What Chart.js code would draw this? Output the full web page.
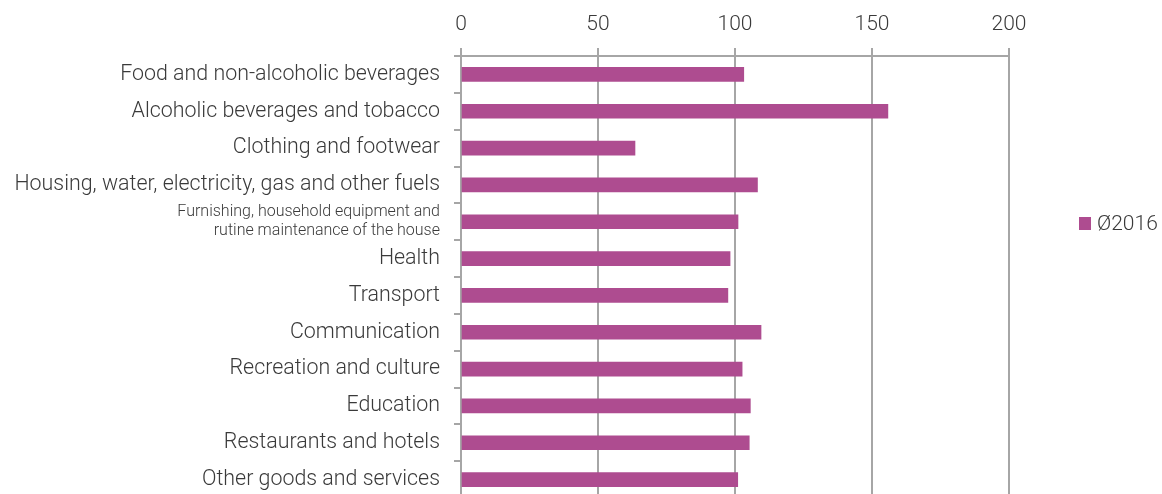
<!DOCTYPE html>
<html>
<head>
<meta charset="utf-8">
<script src="https://cdn.jsdelivr.net/npm/chart.js@4/dist/chart.umd.min.js"></script>
<style>
  html, body { margin: 0; padding: 0; background: #fff; overflow: hidden; }
  #wrap { position: relative; width: 1162px; height: 498px; }
</style>
</head>
<body>
<div id="wrap"><canvas id="chart"></canvas></div>
<script>
// categories (top to bottom)
const categories = [
  "Food and non-alcoholic beverages",
  "Alcoholic beverages and tobacco",
  "Clothing and footwear",
  "Housing, water, electricity, gas and other fuels",
  ["Furnishing, household equipment and", "rutine maintenance of the house"],
  "Health",
  "Transport",
  "Communication",
  "Recreation and culture",
  "Education",
  "Restaurants and hotels",
  "Other goods and services"
];

// values
const values2016 = [103.2, 155.8, 63.5, 108.2, 101.1, 98.2, 97.4, 109.5, 102.6, 105.6, 105.2, 101.0];

const xTicks = [0, 50, 100, 150, 200];

const barColor = "#ae4c90";
const gridColor = "#a6a6a6";
const textColor = "#3a3a3a";
const fontFamily = "Roboto, 'Noto Sans', sans-serif";

// petite légende dessinée à la main (à droite)
const sideLegend = {
  id: "sideLegend",
  afterDraw(chart) {
    const ctx = chart.ctx;
    const ds = chart.data.datasets[0];
    const x = chart.chartArea.right + 70;
    const y = 223.5;
    ctx.save();
    ctx.fillStyle = ds.backgroundColor;
    ctx.fillRect(x, y - 6.5, 12, 13);
    ctx.fillStyle = textColor;
    ctx.font = "300 21px " + fontFamily;
    ctx.textBaseline = "middle";
    ctx.textAlign = "left";
    ctx.fillText(ds.label, x + 18, y + 1);
    ctx.restore();
  }
};

new Chart(document.getElementById("chart"), {
  type: "bar",
  data: {
    labels: categories,
    datasets: [{
      label: "Ø2016",
      data: values2016,
      backgroundColor: barColor,
      barThickness: 14
    }]
  },
  options: {
    indexAxis: "y",
    responsive: true,
    maintainAspectRatio: false,
    animation: false,
    layout: { padding: { left: 0, right: 153, top: 0, bottom: 0 } },
    plugins: {
      legend: { display: false },
      tooltip: { enabled: false }
    },
    scales: {
      x: {
        position: "top",
        min: 0,
        max: 200,
        afterBuildTicks(scale) {
          scale.ticks = xTicks.map(v => ({ value: v }));
        },
        afterFit(scale) { scale.height = 56; },
        grid: { color: gridColor, lineWidth: 2, tickLength: 8 },
        border: { color: gridColor, width: 2 },
        ticks: {
          color: textColor,
          padding: 11,
          font: { family: fontFamily, size: 21, weight: "300" }
        }
      },
      y: {
        afterFit(scale) {
          scale.width = 461;
          scale.paddingTop = 0;
          scale.paddingBottom = 0;
        },
        grid: { drawOnChartArea: false, color: gridColor, lineWidth: 2, tickLength: 7, offset: true },
        border: { color: gridColor, width: 2 },
        ticks: {
          autoSkip: false,
          color: textColor,
          padding: 14,
          font: ctx => ctx.index === 4
            ? { family: fontFamily, size: 16, weight: "300", lineHeight: 1.2 }
            : { family: fontFamily, size: 21.4, weight: "300" }
        }
      }
    }
  },
  plugins: [sideLegend]
});
</script>
</body>
</html>
